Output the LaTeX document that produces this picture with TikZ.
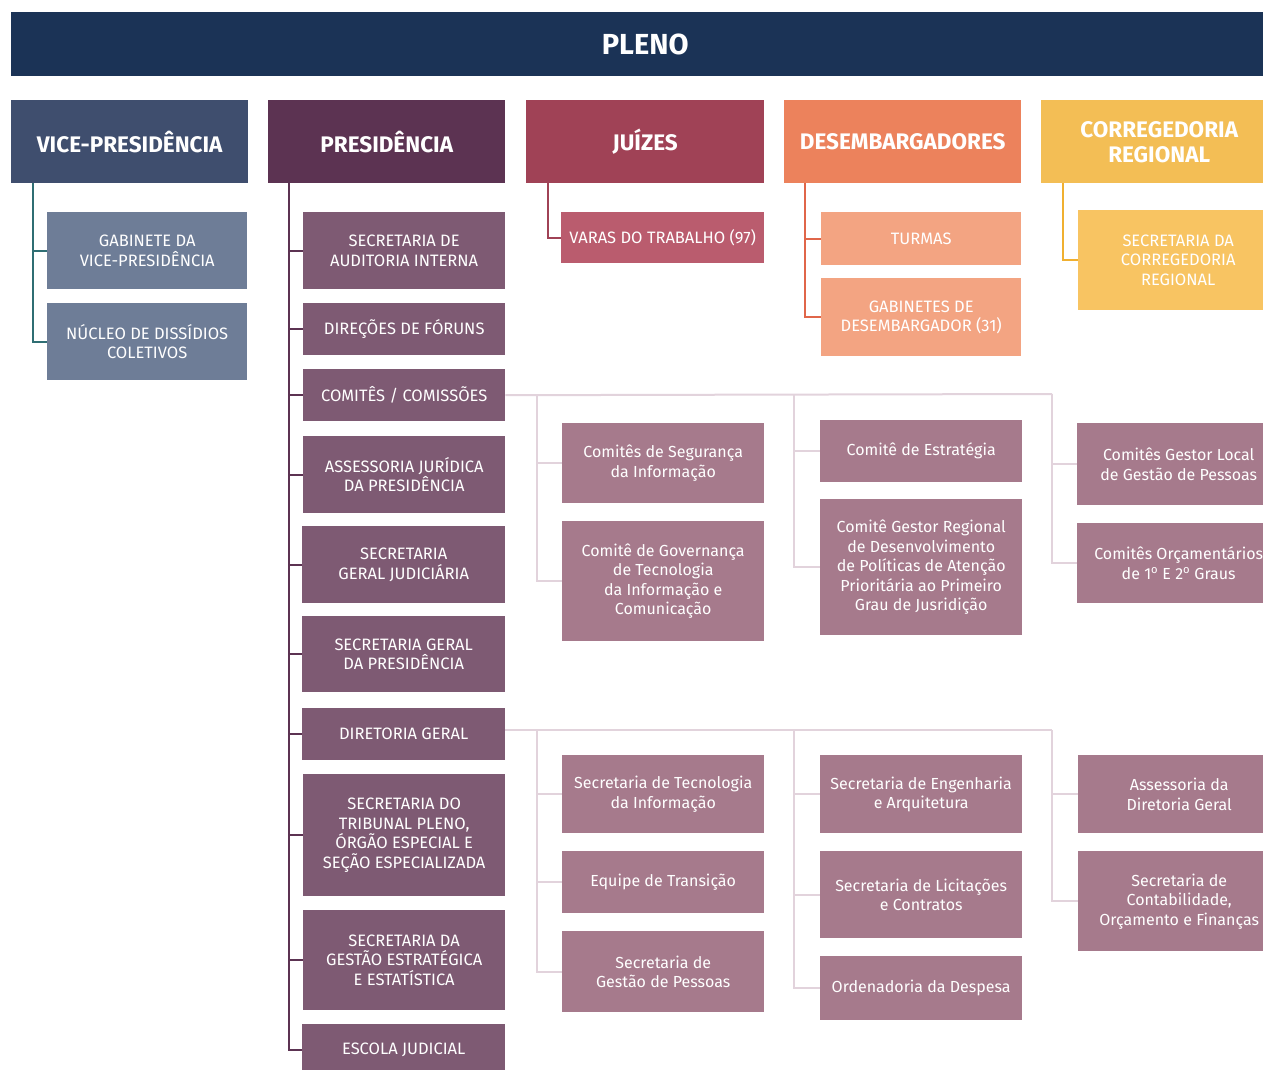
\documentclass[tikz,border=0pt]{standalone}
\usepackage{fontspec}
\setmainfont{Fira Sans}
\definecolor{navy}{HTML}{1B3356}
\definecolor{vpc}{HTML}{3F4E6E}
\definecolor{vpl}{HTML}{6E7D97}
\definecolor{vpline}{HTML}{2F6E73}
\definecolor{prc}{HTML}{5C3352}
\definecolor{prl}{HTML}{7E5A73}
\definecolor{juc}{HTML}{A04256}
\definecolor{jul}{HTML}{BA5C6E}
\definecolor{dec}{HTML}{EC825C}
\definecolor{del}{HTML}{F3A482}
\definecolor{deline}{HTML}{E0664A}
\definecolor{coc}{HTML}{F3BE55}
\definecolor{col}{HTML}{F8C462}
\definecolor{coline}{HTML}{F0B030}
\definecolor{subc}{HTML}{A67A8C}
\definecolor{subline}{HTML}{E2D3DC}
\tikzset{
  box/.style={anchor=north west, inner sep=0pt, align=center, text=white, font=\fontsize{16.5}{19.5}\selectfont},
  sub/.style={box, fill=subc, font=\fontsize{16}{19.5}\selectfont},
  head/.style={box, font=\bfseries\fontsize{22.5}{25}\selectfont},
  ln/.style={line width=2pt},
}
\newcommand{\bx}[7]{% style, name, x1, y1, x2, y2, text
  \node[#1, minimum width={(#5-#3)*1pt}, minimum height={(#6-#4)*1pt}] (#2) at (#3,#4) {#7};}
\begin{document}
\begin{tikzpicture}[x=1pt,y=-1pt]
\useasboundingbox (0,0) rectangle (1263,1069);
% top
\bx{head,fill=navy,font=\bfseries\fontsize{29}{30}\selectfont}{pleno}{11}{12}{1279}{76}{PLENO}
\bx{head,fill=vpc}{vp}{11}{100}{248}{183}{VICE-PRESIDÊNCIA}
\bx{head,fill=prc}{pr}{268}{100}{505}{183}{PRESIDÊNCIA}
\bx{head,fill=juc}{ju}{526}{100}{764}{183}{JUÍZES}
\bx{head,fill=dec}{de}{784}{100}{1021}{183}{DESEMBARGADORES}
\bx{head,fill=coc}{co}{1041}{100}{1277}{183}{CORREGEDORIA\\REGIONAL}
% vice
\bx{box,fill=vpl}{gab}{47}{212}{247}{289}{GABINETE DA\\VICE-PRESIDÊNCIA}
\bx{box,fill=vpl}{nuc}{47}{303}{247}{380}{NÚCLEO DE DISSÍDIOS\\COLETIVOS}
\coordinate (vpT) at (33,183);
\draw[ln,vpline] (vpT) |- (gab.west);
\draw[ln,vpline] (vpT) |- (nuc.west);
% presidencia
\bx{box,fill=prl}{aud}{303}{212}{505}{289}{SECRETARIA DE\\AUDITORIA INTERNA}
\bx{box,fill=prl}{dir}{303}{303}{505}{355}{DIREÇÕES DE FÓRUNS}
\bx{box,fill=prl}{com}{303}{369}{505}{421}{COMITÊS / COMISSÕES}
\bx{box,fill=prl}{ass}{303}{436}{505}{513}{ASSESSORIA JURÍDICA\\DA PRESIDÊNCIA}
\bx{box,fill=prl}{sgj}{302}{526}{505}{603}{SECRETARIA\\GERAL JUDICIÁRIA}
\bx{box,fill=prl}{sgp}{302}{616}{505}{692}{SECRETARIA GERAL\\DA PRESIDÊNCIA}
\bx{box,fill=prl}{dg}{302}{708}{505}{760}{DIRETORIA GERAL}
\bx{box,fill=prl}{stp}{303}{774}{505}{896}{SECRETARIA DO\\TRIBUNAL PLENO,\\ÓRGÃO ESPECIAL E\\SEÇÃO ESPECIALIZADA}
\bx{box,fill=prl}{sge}{303}{910}{505}{1010}{SECRETARIA DA\\GESTÃO ESTRATÉGICA\\E ESTATÍSTICA}
\bx{box,fill=prl}{esc}{302}{1024}{505}{1075}{ESCOLA JUDICIAL}
\coordinate (prT) at (289,182);
\foreach \n in {aud,dir,com,ass,sgj,sgp,dg,stp,sge}
  \draw[ln,prc] (prT) |- (\n.west);
\draw[ln,prc] (prT) |- (esc.west |- 0,1050);
% juizes
\bx{box,fill=jul}{var}{561}{212}{764}{263}{VARAS DO TRABALHO (97)}
\coordinate (juT) at (548,183);
\draw[ln,juc] (juT) |- (var.west);
% desembargadores
\bx{box,fill=del}{tur}{821}{212}{1021}{265}{TURMAS}
\bx{box,fill=del}{gbd}{821}{278}{1021}{356}{GABINETES DE\\DESEMBARGADOR (31)}
\coordinate (deT) at (805,183);
\draw[ln,deline] (deT) |- (tur.west);
\draw[ln,deline] (deT) |- (gbd.west);
% corregedoria
\bx{box,fill=col}{scr}{1078}{210}{1278}{310}{SECRETARIA DA\\CORREGEDORIA\\REGIONAL}
\coordinate (coT) at (1063,183);
\draw[ln,coline] (coT) |- (scr.west);
% comites
\bx{sub}{seg}{562}{423}{764}{503}{Comitês de Segurança\\da Informação}
\bx{sub}{gov}{562}{521}{764}{641}{Comitê de Governança\\de Tecnologia\\da Informação e\\Comunicação}
\bx{sub}{est}{820}{420}{1022}{482}{Comitê de Estratégia}
\bx{sub}{cgr}{820}{499}{1022}{635}{Comitê Gestor Regional\\de Desenvolvimento\\de Políticas de Atenção\\Prioritária ao Primeiro\\Grau de Jusridição}
\bx{sub}{cgl}{1077}{423}{1280}{505}{Comitês Gestor Local\\de Gestão de Pessoas}
\bx{sub}{orc}{1077}{523}{1280}{603}{Comitês Orçamentários\\de 1\textsuperscript{o} E 2\textsuperscript{o} Graus}
\coordinate (ca) at (537,394);
\coordinate (cb) at (794,394);
\coordinate (cc) at (1052,394);
\draw[ln,subline] (com.east) -- (cc);
\draw[ln,subline] (ca) |- (seg.west);
\draw[ln,subline] (ca) |- (gov.west);
\draw[ln,subline] (cb) |- (est.west);
\draw[ln,subline] (cb) |- (cgr.west);
\draw[ln,subline] (cc) |- (cgl.west);
\draw[ln,subline] (cc) |- (orc.west);
% diretoria geral
\bx{sub}{sti}{562}{755}{764}{833}{Secretaria de Tecnologia\\da Informação}
\bx{sub}{eqt}{562}{851}{764}{913}{Equipe de Transição}
\bx{sub}{sgpe}{562}{931}{764}{1012}{Secretaria de\\Gestão de Pessoas}
\bx{sub}{sea}{820}{755}{1022}{833}{Secretaria de Engenharia\\e Arquitetura}
\bx{sub}{slc}{820}{851}{1022}{938}{Secretaria de Licitações\\e Contratos}
\bx{sub}{ord}{820}{956}{1022}{1020}{Ordenadoria da Despesa}
\bx{sub}{adg}{1078}{755}{1280}{833}{Assessoria da\\Diretoria Geral}
\bx{sub}{scf}{1078}{851}{1280}{951}{Secretaria de\\Contabilidade,\\Orçamento e Finanças}
\coordinate (da) at (537,730);
\coordinate (db) at (794,730);
\coordinate (dc) at (1052,730);
\draw[ln,subline] (dg.east |- da) -- (dc);
\foreach \n in {sti,eqt,sgpe} \draw[ln,subline] (da) |- (\n.west);
\foreach \n in {sea,slc,ord} \draw[ln,subline] (db) |- (\n.west);
\foreach \n in {adg,scf} \draw[ln,subline] (dc) |- (\n.west);
\end{tikzpicture}
\end{document}
